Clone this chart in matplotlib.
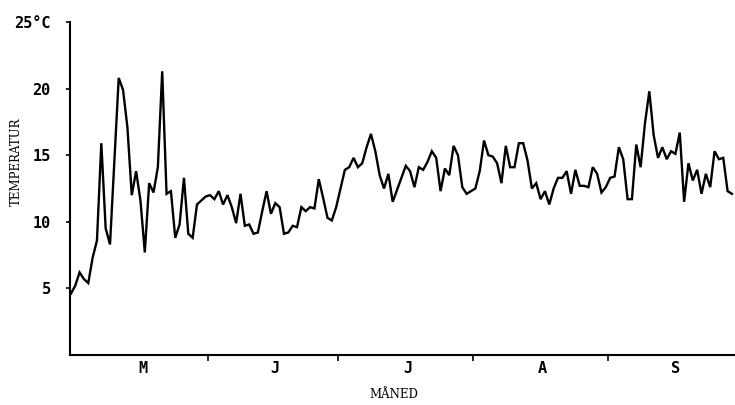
import numpy as np
import matplotlib
matplotlib.use("Agg")
import matplotlib.pyplot as plt

# daily mean temperature, May - September
may = [4.6, 5.2, 6.2, 5.7, 5.4, 7.3, 8.6, 15.9, 9.5, 8.3, 14.6, 20.8, 19.9, 17.1, 12.0, 13.8,
       11.6, 7.7, 12.9, 12.2, 14.1, 21.3, 12.1, 12.3, 8.8, 9.8, 13.3, 9.1, 8.8, 11.3, 11.6]
june = [11.9, 12.0, 11.7, 12.3, 11.3, 12.0, 11.1, 9.9, 12.1, 9.7, 9.8, 9.1, 9.2, 10.8, 12.3,
        10.6, 11.4, 11.1, 9.1, 9.2, 9.7, 9.6, 11.1, 10.8, 11.1, 11.0, 13.2, 11.8, 10.3, 10.1]
july = [11.1, 12.5, 13.9, 14.1, 14.8, 14.1, 14.4, 15.6, 16.6, 15.3, 13.5, 12.5, 13.6, 11.5, 12.4,
        13.3, 14.2, 13.8, 12.6, 14.1, 13.9, 14.5, 15.3, 14.8, 12.3, 14.0, 13.5, 15.7, 15.0, 12.6, 12.1]
august = [12.3, 12.5, 13.8, 16.1, 15.0, 14.9, 14.4, 12.9, 15.7, 14.1, 14.1, 15.9, 15.9, 14.6, 12.5,
          12.9, 11.7, 12.3, 11.3, 12.5, 13.3, 13.3, 13.8, 12.1, 13.9, 12.7, 12.7, 12.6, 14.1, 13.6, 12.2]
september = [12.6, 13.3, 13.4, 15.6, 14.7, 11.7, 11.7, 15.8, 14.1, 17.4, 19.8, 16.5, 14.8, 15.6, 14.7,
             15.3, 15.1, 16.7, 11.5, 14.4, 13.1, 13.9, 12.1, 13.6, 12.6, 15.3, 14.7, 14.8, 12.3, 12.1]

month_labels = ["M", "J", "J", "A", "S"]
ytick_vals = [5, 10, 15, 20, 25]
ytick_labels = ["5", "10", "15", "20", "25°C"]

months = [may, june, july, august, september]
temps = np.concatenate(months)
days = np.arange(len(temps))
lengths = np.array([len(m) for m in months])
bounds = np.cumsum(lengths)
centers = bounds - lengths / 2 + 1

fig = plt.figure(figsize=(7.35, 4.05), dpi=100)
ax = fig.add_axes([70 / 735, 50 / 405, 665 / 735, 333 / 405])

ax.plot(days, temps, color="black", lw=1.7, solid_joinstyle="miter")

ax.set_xlim(-0.2, 152.7)
ax.set_ylim(0, 25)

for s in ["top", "right"]:
    ax.spines[s].set_visible(False)
for s in ["left", "bottom"]:
    ax.spines[s].set_linewidth(1.5)

mono = {"family": "DejaVu Sans Mono", "weight": "bold", "size": 11}

ax.set_yticks(ytick_vals)
ax.set_yticklabels(ytick_labels, fontdict=mono)
ax.tick_params(axis="y", direction="out", length=3, width=1.2, pad=11)

ax.set_xticks(bounds[:-1] + 0.5)
ax.set_xticklabels([])
ax.tick_params(axis="x", which="major", direction="out", length=4, width=1.2)
ax.set_xticks(centers, minor=True)
ax.set_xticklabels(month_labels, minor=True, fontdict=mono)
ax.tick_params(axis="x", which="minor", length=0, pad=4)

fig.text(16 / 735, 1 - 162 / 405, "TEMPERATUR", rotation=90, ha="center", va="center",
         family="DejaVu Serif", fontsize=8.5)
fig.text(394 / 735, 1 - 394 / 405, "MÅNED", ha="center", va="center",
         family="DejaVu Serif", fontsize=8.5)

fig.savefig("out.png", dpi=100)
